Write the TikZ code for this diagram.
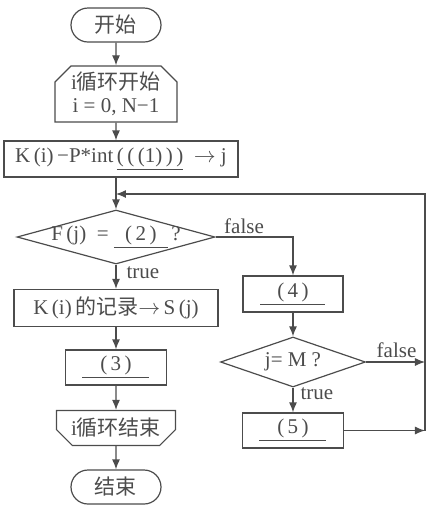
\documentclass[tikz,border=0pt]{standalone}
\usepackage{fontspec}
\setmainfont{Liberation Serif}
\newfontfamily\cjk{Noto Sans CJK SC}
\usetikzlibrary{shapes.geometric,shapes.misc,arrows.meta,positioning}
\definecolor{inkgray}{gray}{0.3}
\newcommand\blank[2]{\underline{\makebox[#1]{#2}}}
\tikzset{
  flowterm/.style={draw,rounded corners=8.5pt,minimum width=45pt,minimum height=17pt,inner sep=0pt},
  flowbox/.style={draw,minimum height=18pt,inner sep=2pt},
  flowloopbeg/.style={draw,chamfered rectangle,chamfered rectangle corners={north west,north east},chamfered rectangle xsep=5pt,inner sep=0pt,align=center},
  flowloopend/.style={draw,chamfered rectangle,chamfered rectangle corners={south west,south east},chamfered rectangle xsep=5pt,inner sep=0pt},
  flowdec/.style={draw,diamond,inner sep=0pt},
  flowarr/.style={-{Latex[length=5pt,width=4pt]}},
  flowlab/.style={inner sep=0pt,anchor=base west}
}

\begin{document}
\begin{tikzpicture}[x=0.5pt,y=-0.5pt,line width=0.6pt,color=inkgray,font=\fontsize{10.5}{11.5}\selectfont]
  \useasboundingbox (0,0) rectangle (432,511);
  % main column
  \node[flowterm] (start) at (116,25) {{\cjk 开始}};
  \node[flowloopbeg,minimum width=61pt,minimum height=24pt] (loopbeg) at (116,94) {i{\cjk 循环开始}\\i = 0, N−1};
  \node[flowbox,minimum width=117pt] (calc) at (121,159) {K\,(i)\,−P*int\,\underline{(\,(\,(1)\,)\,)}\ \ $\rightarrow$\ j};
  \coordinate (back) at (116,194);
  \node[flowdec,minimum width=99pt,minimum height=27pt] (testf) at (116,237) {\makebox[0pt]{F\,(j)\ \ =\ \blank{27pt}{(\,2\,)}\,?}};
  \node[flowbox,minimum width=102pt,minimum height=18.5pt] (store) at (116,308) {K\,(i)\,{\cjk 的记录}$\rightarrow$\,S\,(j)};
  \node[flowbox,minimum width=50.5pt,minimum height=17.5pt] (blank3) at (116,367.5) {\blank{33.5pt}{(\,3\,)}};
  \node[flowloopend,minimum width=59.5pt,minimum height=17.5pt] (loopend) at (116,428) {i{\cjk 循环结束}};
  \node[flowterm] (stop) at (116,487) {{\cjk 结束}};

  % right column
  \node[flowbox,minimum width=50pt] (blank4) at (293,294) {\blank{32.5pt}{(\,4\,)}};
  \node[flowdec,minimum width=72.5pt,minimum height=25pt] (testm) at (293,362) {\makebox[0pt]{j= M\ ?}};
  \node[flowbox,minimum width=50.5pt,minimum height=17.5pt] (blank5) at (293,430.5) {\blank{33.5pt}{(\,5\,)}};
  \coordinate (rtop) at (425,194);

  % connectors
  \draw[flowarr] (start) -- (loopbeg);
  \draw[flowarr] (loopbeg) -- (loopbeg.south |- calc.north);
  \draw[flowarr] (calc.south -| testf.north) -- (testf.north);
  \draw[flowarr] (testf) -- (store);
  \draw[flowarr] (store) -- (blank3);
  \draw[flowarr] (blank3) -- (loopend);
  \draw[flowarr] (loopend) -- (stop);
  \draw[flowarr] (testf.east) -| (blank4.north);
  \draw[flowarr] (blank4) -- (testm);
  \draw[flowarr] (testm) -- (blank5);
  \draw[flowarr] (testm.east) -- (testm.east -| rtop);
  \draw[flowarr] (blank5) -- (blank5 -| rtop);
  \draw[flowarr] (blank5 -| rtop) -- (rtop) -- (back);

  % branch labels
  \node[flowlab] (f1) at ([xshift=4pt,yshift=2pt]testf.east) {false};
  \node[flowlab] (t1) at ([xshift=5pt,yshift=-7pt]testf.south) {true};
  \node[flowlab] (f2) at ([xshift=5pt,yshift=2.5pt]testm.east) {false};
  \node[flowlab] (t2) at ([xshift=3.5pt,yshift=-6pt]testm.south) {true};
\end{tikzpicture}
\end{document}
